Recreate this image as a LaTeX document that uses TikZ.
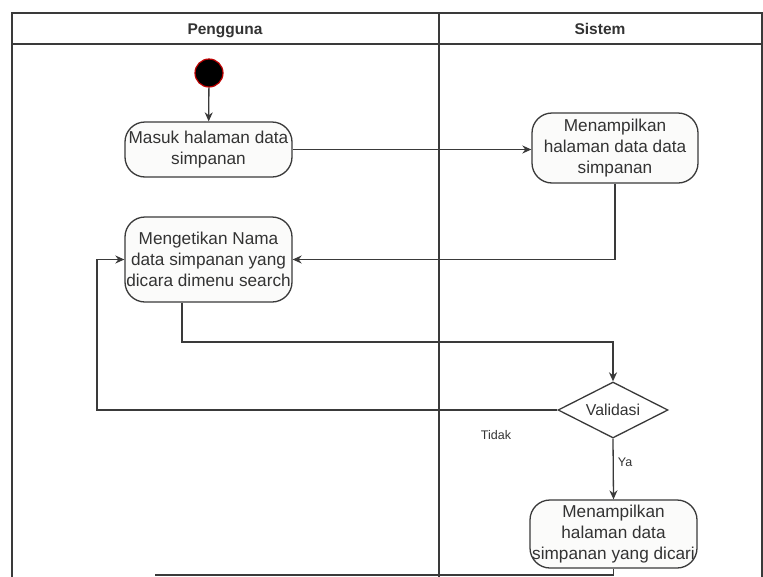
\documentclass[tikz,border=0pt]{standalone}
\usepackage{fontspec}
\setmainfont{Liberation Sans}
\usetikzlibrary{arrows.meta,shapes.geometric}
\definecolor{ln}{HTML}{3A3A3A}
\definecolor{txt}{HTML}{333333}
\definecolor{boxfill}{HTML}{FBFBFA}
\begin{document}
\begin{tikzpicture}[x=1pt,y=-1pt,
  line width=1.3pt,
  act/.style={draw=ln, fill=boxfill, rounded corners=20pt, align=center,
    text=txt, font=\fontsize{17.2}{21}\selectfont, inner sep=0pt},
  dec/.style={draw=ln, fill=white, diamond, aspect=2, inner sep=0pt,
    minimum width=110pt, minimum height=56pt, text=txt,
    font=\fontsize{15.8}{19}\selectfont},
  flow/.style={draw=ln, -{Stealth[length=9pt,width=8pt]}},
  lbl/.style={text=txt, font=\fontsize{12.5}{14}\selectfont},
  hdr/.style={text=txt, anchor=base, font=\bfseries\fontsize{15.5}{18}\selectfont}]
\useasboundingbox (0,0) rectangle (763,576);
\clip (0,0) rectangle (763,576);
\fill[white] (0,0) rectangle (763,576);

% swimlane frame
\draw[ln, line width=1.2pt] (12,590) -- (12,13) -- (762,13) -- (762,590);
\draw[ln, line width=1.2pt] (12,44) -- (762,44);
\draw[ln, line width=1.2pt] (439,13) -- (439,590);
\node[hdr] (h1) at (225,34) {Pengguna};
\node[hdr] (h2) at (600,34) {Sistem};

% start
\node[circle, draw=red!75!black, fill=black, line width=1.2pt,
  minimum size=28pt, inner sep=0pt] (start) at (209,73) {};

% activities
\node[act, minimum width=167pt, minimum height=55pt] (a1) at (208.5,149.5)
  {Masuk halaman data\\simpanan};
\node[act, minimum width=166pt, minimum height=70pt] (a2) at (615,148)
  {Menampilkan\\halaman data data\\simpanan};
\node[act, minimum width=167pt, minimum height=85pt] (a3) at (208.5,259.5)
  {Mengetikan Nama\\data simpanan yang\\dicara dimenu search};
\node[dec] (d) at (613,410) {Validasi};
\node[act, minimum width=167pt, minimum height=68pt] (a4) at (613.5,534)
  {Menampilkan\\halaman data\\simpanan yang dicari};

% connectors
\draw[flow] (start) -- (a1);
\draw[flow] (a1.east) -- (a2.west |- a1.east);
\draw[flow] (a2.south) |- (a3.east);
\coordinate (c1) at (182,342);
\draw[flow] (a3.south -| c1) -- (c1) -| (d.north);
\coordinate (c2) at (97,410);
\draw[flow] (d.west) -- (c2) |- (a3.west);
\node[lbl] (tidak) at (496,435) {Tidak};
\draw[flow] (d.south) -- (a4.north);
\node[lbl, anchor=west] (ya) at (614,462) {Ya};
\coordinate (c3) at (155,575);
\draw[ln] (a4.south) -- (a4.south |- c3) -- (c3);
\end{tikzpicture}
\end{document}
